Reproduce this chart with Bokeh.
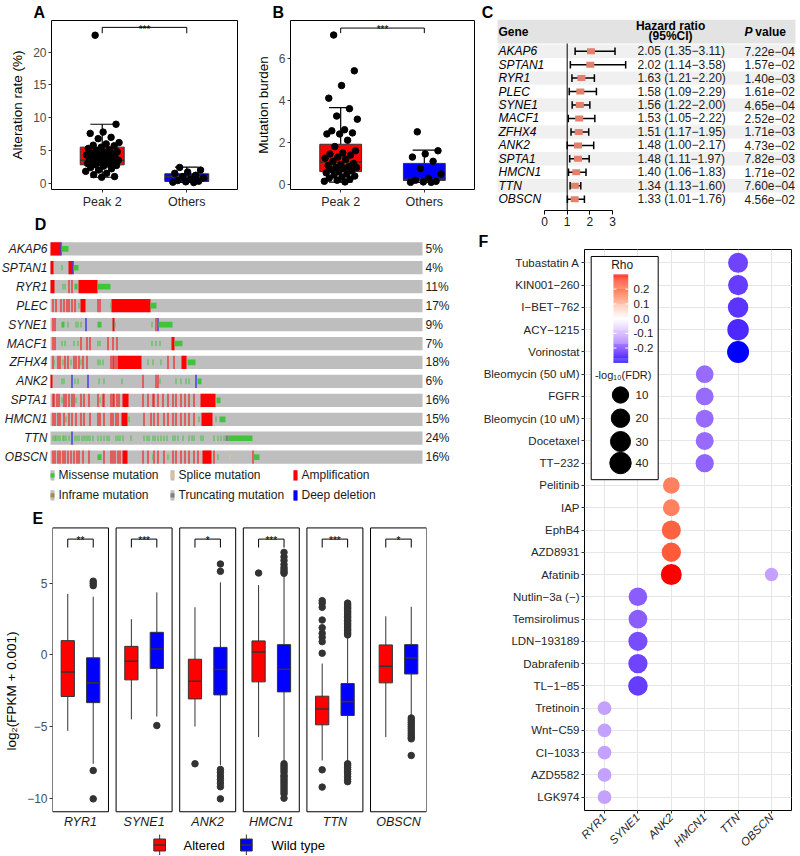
import math
from bokeh.plotting import figure
from bokeh.models import (Range1d, FixedTicker, LinearAxis, ColumnDataSource,
                          LinearColorMapper, Plot)
from bokeh.layouts import row, column
from bokeh.embed import file_html
from bokeh.resources import INLINE
from bokeh.core.properties import value
from bokeh.transform import dodge

FONT = "Liberation Sans"
GREY30 = "#4d4d4d"
DARK = "#333333"
FA = {"frame_align": False} if "frame_align" in Plot.properties() else {}

# ======================= DATA =======================
# ---- Panel A ----
ab_groups = ["Peak 2", "Others"]
a_peak2 = [22.6, 9.0, 7.8, 7.6, 7.0, 6.8, 6.2, 6.0, 5.8, 5.7, 5.5, 5.3, 5.1, 5.0,
           4.8, 4.7, 4.6, 4.5, 4.4, 4.3, 4.1, 4.0, 3.9, 3.8, 3.7, 3.6, 3.5, 3.5,
           3.4, 3.3, 3.2, 3.1, 3.0, 2.9, 2.8, 2.7, 2.6, 2.4, 2.2, 2.0, 1.8, 1.5,
           1.3, 1.0, 0.9]
a_others = [2.4, 2.0, 1.7, 1.5, 1.2, 1.0, 0.8, 0.6, 0.4, 0.3, 0.2, 0.15, 0.1]
a_low = [0.9, 0.1]
a_q1 = [2.8, 0.26]
a_med = [3.5, 1.0]
a_q3 = [5.5, 1.43]
a_high = [9.0, 2.45]
a_sig = "***"

# ---- Panel B ----
b_peak2 = [7.1, 5.4, 4.7, 4.1, 3.6, 3.25, 3.1, 2.6, 2.55, 2.45, 2.4, 2.4, 2.1, 1.8,
           1.6, 1.5, 1.45, 1.4, 1.3, 1.25, 1.2, 1.1, 1.0, 0.95, 0.9, 0.85, 0.8, 0.8,
           0.75, 0.7, 0.65, 0.6, 0.55, 0.5, 0.45, 0.4, 0.35, 0.3, 0.25, 0.2, 0.15, 0.12]
b_others = [2.5, 1.6, 1.45, 1.3, 1.1, 0.75, 0.5, 0.3, 0.2, 0.15, 0.12, 0.1, 0.1]
b_low = [0.11, 0.1]
b_q1 = [0.61, 0.19]
b_med = [1.07, 0.25]
b_q3 = [1.91, 1.0]
b_high = [3.65, 1.63]
b_sig = "***"

# ---- Panel C ----
c_genes = ["AKAP6", "SPTAN1", "RYR1", "PLEC", "SYNE1", "MACF1", "ZFHX4", "ANK2",
           "SPTA1", "HMCN1", "TTN", "OBSCN"]
c_hr = [2.05, 2.02, 1.63, 1.58, 1.56, 1.53, 1.51, 1.48, 1.48, 1.40, 1.34, 1.33]
c_lo = [1.35, 1.14, 1.21, 1.09, 1.22, 1.05, 1.17, 1.00, 1.11, 1.06, 1.13, 1.01]
c_hi = [3.11, 3.58, 2.20, 2.29, 2.00, 2.22, 1.95, 2.17, 1.97, 1.83, 1.60, 1.76]
c_p = ["7.22e\u221204", "1.57e\u221202", "1.40e\u221203", "1.61e\u221202", "4.65e\u221204",
       "2.52e\u221202", "1.71e\u221203", "4.73e\u221202", "7.82e\u221203", "1.71e\u221202",
       "7.60e\u221204", "4.56e\u221202"]
c_ticks = [0, 1, 2, 3]

# ---- Panel D (oncoprint) ----
onco_genes = c_genes
onco_pct = ["5%", "4%", "11%", "17%", "9%", "7%", "18%", "6%", "16%", "15%", "24%", "16%"]
N_SAMPLES = 372
# sample-index ranges + alteration kind (A amp, D deep del, M missense, S splice, I inframe, T truncating)
onco_events = [
    "0-9A 10D 11-17M",
    "0-2A 11M 18-21A 22D 23-27M",
    "0-3A 12M 14M 18A 21A 24-26M 28-46A 47-59M",
    "2A 5A 10A 13A 16A 18A 21A 24A 28M 30-34A 47A 49A 60M 61-99A 100-105M",
    "2A 4A 11-13M 17M 25M 27M 30M 35D 47-50M 62-63A 64M 101M 105A 107D 108-121M",
    "2A 4A 11M 14M 23M 27M 30A 36A 39A 47M 49M 57A 62A 66A 101M 105M 109M 121-123A 124-131M",
    "2A 3M 7A 9A 12M 14A 17A 20M 23A 25A 28A 30M 32A 36A 47M 49M 52M 60A 62A 63A 65A "
    "67-90A 97M 102M 110M 117A 123A 131-135A 137-144M",
    "0-1A 11M 13M 21D 24M 27M 37D 48M 53M 71M 92A 105A 107A 109M 125M 130M 135M 138M 145D 147-150M",
    "2A 3A 6A 8A 11M 13A 15A 18A 21A 23A 25M 30A 33A 38A 47A 49M 52A 53A 60A 62A 63A 66A 68A "
    "72-77A 92A 97A 102A 103A 107A 112A 117A 122A 125A 130A 134A 138A 143A 150-164A 166-169M",
    "2A 4A 7A 9A 13A 15M 18A 21A 25A 30A 33A 39A 47A 49A 53A 60A 62A 65A 67A 71-76A 78M 93A "
    "100A 103A 107A 113A 117A 122A 125A 130A 134A 138A 143A 148M 151-161A 165M 169-174M",
    "2M 4M 5M 7M 9M 12M 13M 15M 18M 21D 24M 26M 28M 31M 33M 35M 37M 39M 42M 47M 50M 53M 56M "
    "58M 65M 67M 69M 72M 80M 93M 96M 98M 102M 104M 107M 110M 113M 116M 122M 124M 127M 132M "
    "138M 141M 143M 150M 152M 163M 167M 170M 173M 175-177T 178-201M",
    "2A 4A 7A 9A 12A 14A 17A 20A 23A 26A 28A 32A 38A 47-50M 53A 60A 62A 64A 67A 69A 72-76A "
    "92A 97A 102M 103A 107A 113A 117M 122A 125A 130A 134A 138A 143A 147A 152-160A 163A 167M "
    "179S 202A 203-208M",
]
onco_legend_labels = ["Missense mutation", "Splice mutation", "Amplification",
                      "Inframe mutation", "Truncating mutation", "Deep deletion"]
onco_legend_kinds = ["M", "S", "A", "I", "T", "D"]

# ---- Panel E ----
e_genes = ["RYR1", "SYNE1", "ANK2", "HMCN1", "TTN", "OBSCN"]
e_groups = ["Altered", "Wild type"]
e_sig = ["**", "***", "*", "***", "***", "*"]
alt_low = [-5.3, -4.5, -5.0, -5.74, -7.37, -5.74]
alt_q1 = [-2.9, -1.74, -3.07, -1.88, -4.88, -1.95]
alt_med = [-1.19, -0.44, -1.84, 0.21, -3.77, -0.79]
alt_q3 = [1.0, 0.6, -0.3, 0.98, -2.88, 0.7]
alt_high = [4.26, 2.5, 3.33, 4.88, -0.6, 2.7]
wt_low = [-7.6, -4.3, -7.7, -7.5, -7.5, -4.25]
wt_q1 = [-3.33, -0.95, -2.79, -2.58, -4.23, -1.33]
wt_med = [-1.95, 0.42, -1.02, -1.0, -3.26, -0.21]
wt_q3 = [-0.2, 1.58, 0.53, 0.72, -2.0, 0.72]
wt_high = [4.07, 4.37, 5.07, 5.55, 1.2, 3.37]
alt_outliers = [[], [], [-7.6], [5.72],
                [3.79, 3.62, 3.33, 2.44, 1.9, 1.51, 1.23, 0.93, 0.12, -8.02, -9.23], []]
wt_outliers = [
    [5.15, 5.0, 4.84, -8.07, -10.05],
    [-4.93],
    [6.35, 5.84, -8.0, -8.2, -8.45, -8.7, -8.95, -9.2, -10.05],
    [7.16, 6.85, 6.6, 6.32, 6.1, 5.95, 5.8, 5.7, -7.6, -7.75, -7.9, -8.05, -8.2, -8.4,
     -8.5, -8.65, -8.8, -8.95, -9.1, -9.25, -9.4, -9.55, -9.7, -10.0],
    [3.62, 3.5, 3.41, 3.3, 3.22, 3.1, 3.0, 2.92, 2.8, 2.7, 2.61, 2.5, 2.4, 2.32, 2.2, 2.1,
     2.02, 1.9, 1.8, 1.71, 1.6, 1.5, 1.4, -7.6, -7.7, -7.85, -8.0, -8.15, -8.3, -8.5, -8.7, -8.85],
    [-4.4, -4.55, -4.7, -4.85, -5.0, -5.15, -5.3, -5.45, -5.6, -5.75, -5.86, -7.02],
]

# ---- Panel F ----
f_drugs = ["Tubastatin A", "KIN001\u2212260", "I\u2212BET\u2212762", "ACY\u22121215", "Vorinostat",
           "Bleomycin (50 uM)", "FGFR", "Bleomycin (10 uM)", "Docetaxel", "TT\u2212232",
           "Pelitinib", "IAP", "EphB4", "AZD8931", "Afatinib",
           "Nutlin\u22123a (\u2212)", "Temsirolimus", "LDN\u2212193189", "Dabrafenib", "TL\u22121\u221285",
           "Tretinoin", "Wnt\u2212C59", "CI\u22121033", "AZD5582", "LGK974"]
f_genes = ["RYR1", "SYNE1", "ANK2", "HMCN1", "TTN", "OBSCN"]
f_pair_drug = ["Tubastatin A", "KIN001\u2212260", "I\u2212BET\u2212762", "ACY\u22121215", "Vorinostat",
               "Bleomycin (50 uM)", "FGFR", "Bleomycin (10 uM)", "Docetaxel", "TT\u2212232",
               "Pelitinib", "IAP", "EphB4", "AZD8931", "Afatinib", "Afatinib",
               "Nutlin\u22123a (\u2212)", "Temsirolimus", "LDN\u2212193189", "Dabrafenib", "TL\u22121\u221285",
               "Tretinoin", "Wnt\u2212C59", "CI\u22121033", "AZD5582", "LGK974"]
f_pair_gene = ["TTN", "TTN", "TTN", "TTN", "TTN",
               "HMCN1", "HMCN1", "HMCN1", "HMCN1", "HMCN1",
               "ANK2", "ANK2", "ANK2", "ANK2", "ANK2", "OBSCN",
               "SYNE1", "SYNE1", "SYNE1", "SYNE1", "SYNE1",
               "RYR1", "RYR1", "RYR1", "RYR1", "RYR1"]
f_rho = [-0.24, -0.25, -0.26, -0.27, -0.30,
         -0.19, -0.19, -0.19, -0.19, -0.20,
         0.19, 0.19, 0.23, 0.24, 0.30, -0.12,
         -0.21, -0.21, -0.23, -0.24, -0.25,
         -0.12, -0.12, -0.12, -0.12, -0.12]
f_nlfdr = [29.5, 30.0, 33.0, 41.0, 45.0,
           16.0, 16.5, 17.0, 17.5, 19.0,
           11.5, 12.0, 24.0, 25.0, 37.0, 2.8,
           21.0, 21.5, 24.0, 25.0, 27.0,
           3.4, 3.4, 3.4, 3.4, 3.4]
f_rho_breaks = [0.2, 0.1, 0.0, -0.1, -0.2]
f_size_breaks = [10, 20, 30, 40]


# ======================= HELPERS =======================
def style_axis(ax, size="12px", color=GREY30, italic=False):
    ax.axis_line_color = None
    ax.major_tick_line_color = DARK
    ax.major_tick_out = 3
    ax.major_tick_in = 0
    ax.minor_tick_line_color = None
    ax.major_label_text_font = FONT
    ax.major_label_text_font_size = size
    ax.major_label_text_color = color
    ax.major_label_standoff = 2
    if italic:
        ax.major_label_text_font_style = "italic"
    ax.axis_label_text_font = FONT
    ax.axis_label_text_font_size = "13.5px"
    ax.axis_label_text_font_style = "normal"
    ax.axis_label_text_color = "black"
    ax.axis_label_standoff = 5


def set_letter(p, offset, standoff):
    p.title.align = "left"
    p.title.offset = offset
    p.title.standoff = standoff
    p.title.text_font = FONT
    p.title.text_font_size = "16px"
    p.title.text_font_style = "bold"
    p.title.text_color = "black"


def _lab(hexc):
    rgb = [int(hexc[i:i + 2], 16) / 255 for i in (1, 3, 5)]
    r, g, b = [c / 12.92 if c <= 0.04045 else ((c + 0.055) / 1.055) ** 2.4 for c in rgb]
    X = 0.4124564 * r + 0.3575761 * g + 0.1804375 * b
    Y = 0.2126729 * r + 0.7151522 * g + 0.0721750 * b
    Z = 0.0193339 * r + 0.1191920 * g + 0.9503041 * b

    def f(t):
        return t ** (1 / 3) if t > 216 / 24389 else (24389 / 27 * t + 16) / 116
    fx_, fy_, fz_ = f(X / 0.95047), f(Y), f(Z / 1.08883)
    return (116 * fy_ - 16, 500 * (fx_ - fy_), 200 * (fy_ - fz_))


def _hex(L, a, b):
    fy_ = (L + 16) / 116
    fx_ = fy_ + a / 500
    fz_ = fy_ - b / 200

    def finv(t):
        return t ** 3 if t ** 3 > 216 / 24389 else (116 * t - 16) / (24389 / 27)
    X, Y, Z = 0.95047 * finv(fx_), finv(fy_), 1.08883 * finv(fz_)
    r = 3.2404542 * X - 1.5371385 * Y - 0.4985314 * Z
    g = -0.9692660 * X + 1.8760108 * Y + 0.0415560 * Z
    bb = 0.0556434 * X - 0.2040259 * Y + 1.0572252 * Z

    def gam(c):
        c = min(max(c, 0.0), 1.0)
        return 12.92 * c if c <= 0.0031308 else 1.055 * c ** (1 / 2.4) - 0.055
    return "#%02x%02x%02x" % tuple(int(round(gam(c) * 255)) for c in (r, g, bb))


LOWC, MIDC, HIGHC = _lab("#0000ff"), _lab("#ffffff"), _lab("#ff0000")
rho_palette = []
for k in range(256):
    t = k / 255
    if t <= 0.5:
        s = t / 0.5
        c = [LOWC[j] + (MIDC[j] - LOWC[j]) * s for j in range(3)]
    else:
        s = (t - 0.5) / 0.5
        c = [MIDC[j] + (HIGHC[j] - MIDC[j]) * s for j in range(3)]
    rho_palette.append(_hex(*c))
rho_mapper = LinearColorMapper(palette=rho_palette, low=-0.3, high=0.3)


def dot_size(v):
    return 12 + 10 * math.sqrt(max(v - 2.0, 0.0) / 43.0)


# ======================= PANELS A & B =======================
def make_ab(width, lb, rb, yr, yticks, ylabel, pts, low, q1, med, q3, high, sig,
            sig_y, tick_y, sig_text_y, let, let_off, box_w):
    p = figure(width=width, height=215, x_range=Range1d(-0.1, 2.1), y_range=Range1d(*yr),
               output_backend="svg", toolbar_location=None, title=let,
               min_border_left=lb, min_border_right=rb, min_border_top=20, min_border_bottom=26, **FA)
    set_letter(p, let_off, 0)
    p.grid.visible = False
    p.outline_line_color = "black"
    p.outline_line_width = 1
    xs = [0.5, 1.5]
    src = ColumnDataSource(dict(x=xs, low=low, q1=q1, med=med, q3=q3, high=high,
                                fill=["#ff0000", "#0000ff"]))
    p.segment(x0="x", y0="low", x1="x", y1="high", source=src, line_color="black", line_width=1.2)
    for fld in ("low", "high"):
        p.segment(x0=dodge("x", -0.14), y0=fld, x1=dodge("x", 0.14), y1=fld, source=src,
                  line_color="black", line_width=1.2)
    p.vbar(x="x", width=box_w, bottom="q1", top="q3", source=src, fill_color="fill",
           line_color=DARK, line_width=1)
    p.segment(x0=dodge("x", -box_w / 2), y0="med", x1=dodge("x", box_w / 2), y1="med",
              source=src, line_color=DARK, line_width=1.6)
    jx, jy = [], []
    for gi, vals in enumerate(pts):
        for k, v in enumerate(vals):
            jx.append(xs[gi] + (((k * 0.618034 + 0.29) % 1.0) - 0.5) * 0.40)
            jy.append(v)
    p.scatter(x=jx, y=jy, size=6.5, color="black")
    p.line(x=[xs[0], xs[0], xs[1], xs[1]], y=[tick_y, sig_y, sig_y, tick_y],
           line_color="black", line_width=1)
    p.text(x=[(xs[0] + xs[1]) / 2], y=[sig_text_y], text=[sig], text_font=value(FONT),
           text_font_size="10px", text_align="center", text_baseline="alphabetic")
    p.xaxis.ticker = FixedTicker(ticks=xs)
    p.xaxis.major_label_overrides = dict(zip(xs, ab_groups))
    p.yaxis.ticker = FixedTicker(ticks=yticks)
    p.yaxis.axis_label = ylabel
    style_axis(p.xaxis[0], size="12.5px", color="#262626")
    style_axis(p.yaxis[0])
    return p


pA = make_ab(252, 51, 15, (-0.97, 24.85), [0, 5, 10, 15, 20], "Alteration rate (%)",
             [a_peak2, a_others], a_low, a_q1, a_med, a_q3, a_high, a_sig,
             23.8, 22.9, 23.5, "A", -18, 0.52)
pB = make_ab(224, 31, 2, (-0.24, 7.79), [0, 2, 4, 6], "Mutation burden",
             [b_peak2, b_others], b_low, b_q1, b_med, b_q3, b_high, b_sig,
             7.43, 7.19, 7.38, "B", -18, 0.5)

# ======================= PANEL C =======================
C_W = 323
pC = figure(width=C_W, height=228, x_range=Range1d(-3.0, -3.0 + C_W / 22.67),
            y_range=Range1d(-0.84, 14.77),
            x_axis_type=None, y_axis_type=None, output_backend="svg", toolbar_location=None,
            min_border_left=0, min_border_right=0, min_border_top=0, min_border_bottom=18, **FA)
pC.outline_line_color = None
pC.grid.visible = False
cy = [11 - i for i in range(len(c_genes))]
zebra = [y for i, y in enumerate(cy) if i % 2 == 0]
C_R = 11.07
pC.quad(left=-2.07, right=C_R, bottom=[y - 0.5 for y in zebra], top=[y + 0.5 for y in zebra],
        fill_color="#f0f0f0", line_color=None)
pC.quad(left=[-2.07], right=[C_R], bottom=[11.57], top=[13.33], fill_color="#e3e3e3", line_color=None)
pC.segment(x0=[1], y0=[-0.84], x1=[1], y1=[11.57], line_color="black", line_width=1)
hr_txt = ["%.2f (%.2f\u2212%.2f)" % (h, l, u) for h, l, u in zip(c_hr, c_lo, c_hi)]
csrc = ColumnDataSource(dict(y=cy, hr=c_hr, lo=c_lo, hi=c_hi, gene=c_genes, hrtxt=hr_txt, p=c_p))
pC.segment(x0="lo", y0="y", x1="hi", y1="y", source=csrc, line_color="black", line_width=1.5)
for fld in ("lo", "hi"):
    pC.segment(x0=fld, y0=dodge("y", -0.28), x1=fld, y1=dodge("y", 0.28), source=csrc,
               line_color="black", line_width=1.5)
pC.rect(x="hr", y="y", width=8, height=6, width_units="screen", height_units="screen",
        source=csrc, fill_color="#e2806c", line_color=None)
tk = dict(text_font=value(FONT), text_font_size="12px", text_baseline="middle", text_align="left")
pC.text(x=-2.03, y="y", text="gene", source=csrc, text_font_style="italic", **tk)
pC.text(x=4.10, y="y", text="hrtxt", source=csrc, text_color="#1a1a1a", **tk)
pC.text(x=8.82, y="y", text="p", source=csrc, text_color="#1a1a1a", **tk)
pC.text(x=[-2.03], y=[12.46], text=["Gene"], text_font_style="bold", **tk)
pC.text(x=[8.82], y=[12.46], text=["P"], text_font_style="bold italic", **tk)
pC.text(x=[9.30], y=[12.46], text=["value"], text_font_style="bold", **tk)
tkc = dict(tk, text_align="center")
pC.text(x=[5.56], y=[12.84], text=["Hazard ratio"], text_font_style="bold", **tkc)
pC.text(x=[5.56], y=[12.13], text=["(95%CI)"], text_font_style="bold", **tkc)
pC.text(x=[-2.51], y=[13.88], text=["C"], text_font=value(FONT), text_font_style="bold",
        text_font_size="16px", text_align="center", text_baseline="middle")
cax = LinearAxis(ticker=FixedTicker(ticks=c_ticks), bounds=(0, 3))
style_axis(cax, size="12px", color="#1a1a1a")
cax.axis_line_color = "black"
cax.major_tick_line_color = "black"
cax.major_tick_out = 4
pC.add_layout(cax, "below")

# ======================= PANEL D =======================
KIND_COL = {"A": "#ff0000", "D": "#0000ff", "M": "#3fc43a", "S": "#e6bf8f",
            "I": "#a38c4f", "T": "#7f7f7f"}


def parse_events(s):
    out = []
    for tok in s.split():
        kind, rng = tok[-1], tok[:-1]
        if "-" in rng:
            a, b = rng.split("-")
        else:
            a = b = rng
        out.append((int(a), int(b) + 1, kind))
    return out


pD = figure(width=476, height=290, x_range=Range1d(-50, 426), y_range=Range1d(13.55, -1.757),
            x_axis_type=None, y_axis_type=None, output_backend="svg", toolbar_location=None,
            min_border_left=0, min_border_right=0, min_border_top=0, min_border_bottom=0, **FA)
pD.outline_line_color = None
pD.grid.visible = False
dy = list(range(len(onco_genes)))
pD.quad(left=0, right=N_SAMPLES, bottom=[y + 0.35 for y in dy], top=[y - 0.35 for y in dy],
        fill_color="#bebebe", line_color=None)
full = dict(l=[], r=[], t=[], b=[], c=[])
small = dict(l=[], r=[], t=[], b=[], c=[])
for i, evs in enumerate(onco_events):
    for a, b, k in parse_events(evs):
        tgt, h = (full, 0.35) if k in "AD" else (small, 0.15)
        tgt["l"].append(a); tgt["r"].append(b)
        tgt["t"].append(i - h); tgt["b"].append(i + h); tgt["c"].append(KIND_COL[k])
for d in (full, small):
    pD.quad(left=d["l"], right=d["r"], top=d["t"], bottom=d["b"], fill_color=d["c"], line_color=None)
pD.text(x=-3, y=dy, text=onco_genes, text_font=value(FONT), text_font_style="italic",
        text_font_size="12px", text_align="right", text_baseline="middle", text_color="#1a1a1a")
pD.text(x=375, y=dy, text=onco_pct, text_font=value(FONT), text_font_size="12px",
        text_align="left", text_baseline="middle", text_color="#1a1a1a")
leg_x = [0, 120, 243]
leg_y = [11.96, 13.02]
lx, ly, ll, lk = [], [], [], []
for j, (lab, kind) in enumerate(zip(onco_legend_labels, onco_legend_kinds)):
    lx.append(leg_x[j % 3]); ly.append(leg_y[j // 3]); ll.append(lab); lk.append(kind)
pD.quad(left=lx, right=[x + 4 for x in lx], top=[y - 0.27 for y in ly], bottom=[y + 0.27 for y in ly],
        fill_color="#bebebe", line_color=None)
hh = [0.27 if k in "AD" else 0.11 for k in lk]
pD.quad(left=lx, right=[x + 4 for x in lx], top=[y - h for y, h in zip(ly, hh)],
        bottom=[y + h for y, h in zip(ly, hh)], fill_color=[KIND_COL[k] for k in lk], line_color=None)
pD.text(x=[x + 8 for x in lx], y=ly, text=ll, text_font=value(FONT), text_font_size="12px",
        text_align="left", text_baseline="middle", text_color="#1a1a1a")
pD.text(x=[-10], y=[-1.3], text=["D"], text_font=value(FONT), text_font_style="bold",
        text_font_size="16px", text_align="center", text_baseline="middle")

# ======================= PANEL E =======================
PITCH = 2.5
E_H = 350
pE = figure(width=476, height=E_H, x_range=Range1d(0.4, 5 * PITCH + 2.6),
            y_range=Range1d(8.97 - (E_H - 21) / 14.32, 8.97),
            x_axis_type=None, output_backend="svg", toolbar_location=None, title="E",
            min_border_left=52, min_border_right=50, min_border_top=21, min_border_bottom=0, **FA)
set_letter(pE, -20, 0)
pE.grid.visible = False
pE.outline_line_color = None
fpos = [f * PITCH for f in range(len(e_genes))]
pE.quad(left=[f + 0.4 for f in fpos], right=[f + 2.6 for f in fpos], bottom=-10.95, top=8.87,
        fill_color=None, line_color="black", line_width=1)
BW = 0.52
E_COLS = ["#ff0000", "#0000ff"]
for xo, lo, q1, md, q3, hi, outs, col in (
        (1, alt_low, alt_q1, alt_med, alt_q3, alt_high, alt_outliers, E_COLS[0]),
        (2, wt_low, wt_q1, wt_med, wt_q3, wt_high, wt_outliers, E_COLS[1])):
    src = ColumnDataSource(dict(x=[f + xo for f in fpos], lo=lo, q1=q1, md=md, q3=q3, hi=hi))
    pE.segment(x0="x", y0="lo", x1="x", y1="hi", source=src, line_color=DARK, line_width=1)
    pE.vbar(x="x", width=BW, bottom="q1", top="q3", source=src, fill_color=col,
            line_color=DARK, line_width=1)
    pE.segment(x0=dodge("x", -BW / 2), y0="md", x1=dodge("x", BW / 2), y1="md", source=src,
               line_color=DARK, line_width=1.6)
    ox, oy = [], []
    for f, vals in zip(fpos, outs):
        ox += [f + xo] * len(vals)
        oy += vals
    pE.scatter(x=ox, y=oy, size=6.5, color=DARK)
bx, by = [], []
for f in fpos:
    bx.append([f + 1, f + 1, f + 2, f + 2])
    by.append([7.5, 8.09, 8.09, 7.5])
pE.multi_line(xs=bx, ys=by, line_color="black", line_width=1)
pE.text(x=[f + 1.5 for f in fpos], y=8.0, text=e_sig, text_font=value(FONT), text_font_size="10px",
        text_align="center", text_baseline="alphabetic")


def ey(py):
    return (654.3 - py) / 14.33


def ex(px):
    return 0.4 + (px - 52) / 25.44


# facet strip labels below panels
pE.text(x=[f + 1.5 for f in fpos], y=ey(821), text=e_genes, text_font=value(FONT),
        text_font_style="italic", text_font_size="12.5px", text_align="center",
        text_baseline="middle", text_color="#1a1a1a")
# legend (box keys)
key_l = [ex(153.3), ex(240)]
key_w = ex(165) - ex(153.3)
key_c = [k + key_w / 2 for k in key_l]
pE.segment(x0=key_c, y0=ey(834), x1=key_c, y1=ey(855), line_color=DARK, line_width=1)
pE.quad(left=key_l, right=[k + key_w for k in key_l], top=ey(838.5), bottom=ey(850.5),
        fill_color=E_COLS, line_color=DARK, line_width=1)
pE.segment(x0=key_l, y0=ey(844.5), x1=[k + key_w for k in key_l], y1=ey(844.5),
           line_color=DARK, line_width=1.4)
pE.text(x=[ex(183), ex(271)], y=ey(845), text=e_groups, text_font=value(FONT),
        text_font_size="13px", text_align="left", text_baseline="middle", text_color="black")
pE.yaxis.ticker = FixedTicker(ticks=[-10, -5, 0, 5])
pE.yaxis.major_label_overrides = {-10: "\u221210", -5: "\u22125", 0: "0", 5: "5"}
pE.yaxis.axis_label = "log\u2082(FPKM + 0.001)"
pE.yaxis.bounds = (-10.95, 8.87)
style_axis(pE.yaxis[0])

# ======================= PANEL F =======================
F_W, F_H = 323, 627
pF = figure(width=F_W, height=F_H, x_range=Range1d(0.4, 6.6), y_range=Range1d(0.4, 25.6),
            output_backend="svg", toolbar_location=None, title="F",
            min_border_left=108, min_border_right=F_W - 108 - 207, min_border_top=21,
            min_border_bottom=F_H - 21 - 563, **FA)
set_letter(pF, -106, 0)
pF.outline_line_color = "black"
pF.outline_line_width = 1
xt = FixedTicker(ticks=list(range(1, len(f_genes) + 1)))
yt = FixedTicker(ticks=list(range(1, len(f_drugs) + 1)))
pF.xaxis.ticker = xt
pF.yaxis.ticker = yt
pF.xgrid.ticker = xt
pF.ygrid.ticker = yt
pF.grid.grid_line_color = "#e6e6e6"
pF.grid.grid_line_width = 1
pF.xaxis.major_label_overrides = {i + 1: g for i, g in enumerate(f_genes)}
pF.yaxis.major_label_overrides = {len(f_drugs) - i: d for i, d in enumerate(f_drugs)}
style_axis(pF.xaxis[0], size="11.5px", color="#262626", italic=True)
style_axis(pF.yaxis[0], size="11.5px", color="#262626")
pF.xaxis.major_label_orientation = math.pi / 4
fsrc = ColumnDataSource(dict(
    x=[f_genes.index(g) + 1 for g in f_pair_gene],
    y=[len(f_drugs) - f_drugs.index(d) for d in f_pair_drug],
    rho=f_rho, size=[dot_size(v) for v in f_nlfdr]))
pF.scatter(x="x", y="y", size="size", source=fsrc,
           fill_color={"field": "rho", "transform": rho_mapper}, line_color=None)


def fx(px):
    return 0.4 + (px - 584) / 33.39


def fy(py):
    return 25.6 - (py - 249) / 22.34


pF.quad(left=[fx(590.7)], right=[fx(657.7)], top=[fy(256)], bottom=[fy(480)],
        fill_color="white", line_color="black", line_width=1)
pF.text(x=[fx(621.7)], y=[fy(265)], text=["Rho"], text_font=value(FONT), text_font_size="12px",
        text_align="center", text_baseline="middle", text_color="#1a1a1a")
cb_l, cb_r, cb_b, cb_t = fx(613), fx(627.7), fy(362.7), fy(274)
NS = 90
cb_vals = [-0.3 + (k + 0.5) * 0.6 / NS for k in range(NS)]
cb_src = ColumnDataSource(dict(rho=cb_vals,
                               b=[cb_b + k * (cb_t - cb_b) / NS for k in range(NS)],
                               t=[cb_b + (k + 1.02) * (cb_t - cb_b) / NS for k in range(NS)]))
pF.quad(left=cb_l, right=cb_r, bottom="b", top="t", source=cb_src,
        fill_color={"field": "rho", "transform": rho_mapper}, line_color=None)


def rho_y(r):
    return cb_b + (r + 0.3) / 0.6 * (cb_t - cb_b)


tick_w = (cb_r - cb_l) * 0.2
pF.segment(x0=[cb_l] * 5 + [cb_r - tick_w] * 5, x1=[cb_l + tick_w] * 5 + [cb_r] * 5,
           y0=[rho_y(r) for r in f_rho_breaks] * 2, y1=[rho_y(r) for r in f_rho_breaks] * 2,
           line_color="white", line_width=1)
pF.text(x=fx(633), y=[rho_y(r) for r in f_rho_breaks], text=["%.1f" % r for r in f_rho_breaks],
        text_font=value(FONT), text_font_size="11.5px", text_align="left", text_baseline="middle",
        text_color="#1a1a1a")
pF.text(x=[fx(622.7)], y=[fy(375)], text=["-log\u2081\u2080(FDR)"], text_font=value(FONT),
        text_font_size="11px", text_align="center", text_baseline="middle", text_color="#1a1a1a")
sz_y = [fy(395), fy(418.3), fy(441.7), fy(463.3)]
pF.scatter(x=[fx(620)] * 4, y=sz_y, size=[dot_size(v) for v in f_size_breaks], color="black")
pF.text(x=fx(635), y=sz_y, text=[str(v) for v in f_size_breaks], text_font=value(FONT),
        text_font_size="11.5px", text_align="left", text_baseline="middle", text_color="#1a1a1a")

# ======================= LAYOUT =======================
left = column(row(pA, pB), pD, pE)
right = column(pC, pF)
layout = row(left, right)
open("out.html", "w").write(file_html(layout, INLINE, title="figure"))
